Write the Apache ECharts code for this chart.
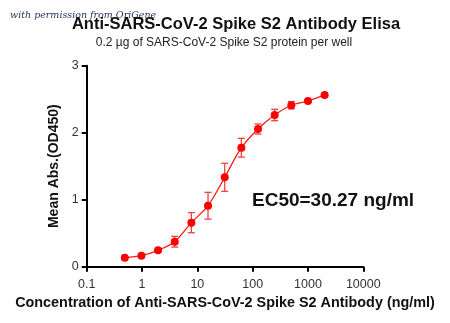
<!DOCTYPE html>
<html><head><meta charset="utf-8">
<script src="https://cdn.jsdelivr.net/npm/echarts@6/dist/echarts.min.js"></script>
<style>html,body{margin:0;padding:0;background:#fff}#c{width:450px;height:323px}</style>
</head><body><div id="c"></div>
<script>
var concentrations = [0.488, 0.977, 1.95, 3.9, 7.8, 15.6, 31.25, 62.5, 125, 250, 500, 1000, 2000];
var meanOD = [0.134, 0.164, 0.245, 0.373, 0.657, 0.91, 1.334, 1.776, 2.055, 2.264, 2.41, 2.473, 2.563];
var errOD = [0.01, 0.01, 0.02, 0.08, 0.15, 0.2, 0.21, 0.14, 0.075, 0.085, 0.055, 0.02, 0.01];
var xTicks = [0.1, 1, 10, 100, 1000, 10000];
var yTicks = [0, 1, 2, 3];

var chart = echarts.init(document.getElementById('c'), null, {renderer: 'canvas'});
var pts = concentrations.map(function(c, i){ return [c, meanOD[i]]; });
var errs = concentrations.map(function(c, i){ return [c, meanOD[i] - errOD[i], meanOD[i] + errOD[i]]; });
var font = 'Liberation Sans, Arial, sans-serif';
chart.setOption({
  animation: false,
  backgroundColor: '#fff',
  graphic: [
    {type: 'text', left: 10, top: 11, style: {text: 'with permission from OriGene', font: 'italic 9.5px DejaVu Serif', fill: '#1f2d5c'}},
    {type: 'text', x: 236, y: 24, style: {text: 'Anti-SARS-CoV-2 Spike S2 Antibody Elisa', font: 'bold 16.5px ' + font, fill: '#111', align: 'center', verticalAlign: 'middle'}},
    {type: 'text', x: 224, y: 43, style: {text: '0.2 \u00b5g of SARS-CoV-2 Spike S2 protein per well', font: '12px ' + font, fill: '#222', align: 'center', verticalAlign: 'middle'}},
    {type: 'text', x: 252, y: 201, style: {text: 'EC50=30.27 ng/ml', font: 'bold 19px ' + font, fill: '#111', verticalAlign: 'middle'}}
  ],
  grid: {left: 86.7, right: 86.7, top: 65.7, bottom: 56.3},
  xAxis: {
    type: 'log', logBase: 10, min: 0.1, max: 10000,
    name: 'Concentration of Anti-SARS-CoV-2 Spike S2 Antibody (ng/ml)',
    nameLocation: 'middle', nameGap: 28,
    nameTextStyle: {fontWeight: 'bold', fontSize: 14.4, fontFamily: font, color: '#111'},
    axisLine: {lineStyle: {color: '#000', width: 2}},
    axisTick: {show: true, length: 5, lineStyle: {color: '#000', width: 2}},
    minorTick: {show: false},
    splitLine: {show: false},
    axisLabel: {color: '#333', fontSize: 12.5, fontFamily: font, margin: 11, formatter: function(v){ return String(v); }}
  },
  yAxis: {
    type: 'value', min: 0, max: 3, interval: 1,
    name: 'Mean Abs.(OD450)', nameLocation: 'middle', nameGap: 20,
    nameTextStyle: {fontWeight: 'bold', fontSize: 14, fontFamily: font, color: '#111'},
    axisLine: {show: true, lineStyle: {color: '#000', width: 2}},
    axisTick: {show: true, length: 5, lineStyle: {color: '#000', width: 2}},
    splitLine: {show: false},
    axisLabel: {color: '#333', fontSize: 12.5, fontFamily: font, margin: 8}
  },
  series: [
    {
      type: 'line', data: pts, smooth: 0.3,
      symbol: 'circle', symbolSize: 8,
      lineStyle: {color: '#ff1a1a', width: 1.3},
      itemStyle: {color: '#ff0000'},
      z: 3
    },
    {
      type: 'custom', data: errs, z: 2,
      renderItem: function(params, api){
        var x = api.value(0);
        var lo = api.coord([x, api.value(1)]);
        var hi = api.coord([x, api.value(2)]);
        var w = 3.5;
        var st = {stroke: '#f04040', lineWidth: 1.3};
        return {type: 'group', children: [
          {type: 'line', shape: {x1: lo[0], y1: lo[1], x2: hi[0], y2: hi[1]}, style: st},
          {type: 'line', shape: {x1: lo[0]-w, y1: lo[1], x2: lo[0]+w, y2: lo[1]}, style: st},
          {type: 'line', shape: {x1: hi[0]-w, y1: hi[1], x2: hi[0]+w, y2: hi[1]}, style: st}
        ]};
      }
    }
  ]
});
</script></body></html>
